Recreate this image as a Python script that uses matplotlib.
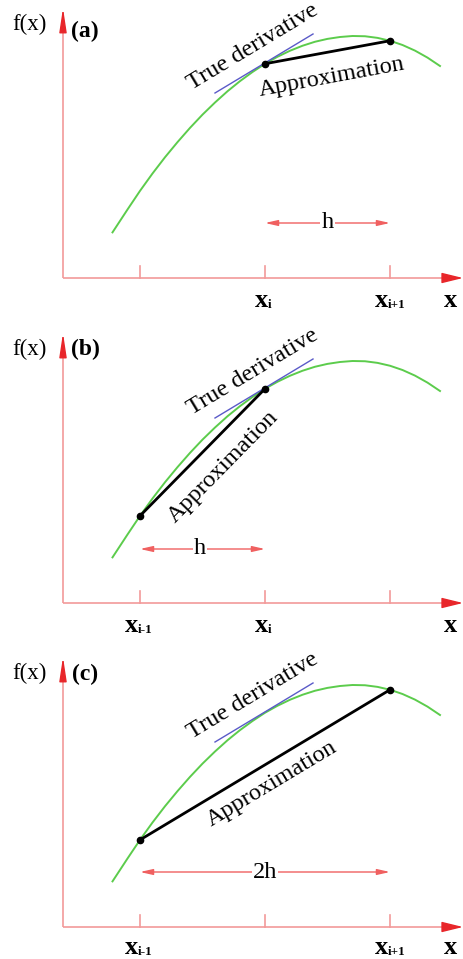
import numpy as np
import matplotlib
matplotlib.use("Agg")
import matplotlib.pyplot as plt

plt.rcParams['font.family'] = ['Liberation Serif', 'DejaVu Serif']

# ---- data (x in units of the grid spacing h) ----
curve_x = [0.78, 0.9, 1.0, 1.1, 1.2, 1.3, 1.4, 1.5, 1.6, 1.7, 1.8, 1.9, 2.0, 2.1,
           2.2, 2.3, 2.4, 2.5, 2.6, 2.7, 2.8, 2.9, 3.0, 3.1, 3.2, 3.3, 3.4]
curve_y = [0.365, 0.548, 0.697, 0.836, 0.966, 1.087, 1.201, 1.307, 1.404, 1.494,
           1.575, 1.648, 1.714, 1.770, 1.818, 1.858, 1.890, 1.913, 1.928, 1.936,
           1.934, 1.921, 1.898, 1.864, 1.819, 1.763, 1.696]
tick_x = [1, 2, 3]
tangent_x = [1.6, 2.384]
tangent_y = [1.48, 1.952]

panel_labels = ['(a)', '(b)', '(c)']
secant_x = [[2, 3], [1, 2], [1, 3]]
secant_y = [[1.714, 1.898], [0.697, 1.714], [0.697, 1.898]]
tick_subs = [
    {2: 'i', 3: 'i+1'},
    {1: 'i-1', 2: 'i'},
    {1: 'i-1', 3: 'i+1'},
]
span_x = [[2, 3], [1, 2], [1, 3]]
span_y = [0.44, 0.432, 0.44]
span_text = ['h', 'h', '2h']
span_text_x = [2.5, 1.48, 2.0]
approx_pos = [(2.536, 1.608), (1.664, 1.088), (2.056, 1.144)]
label_y = [1.93, 1.98, 1.975]
xlab_y = [-0.235, -0.235, -0.215]

# ---- layout (pixel bands of the 463x959 image) ----
W, H = 463, 959
PX = 125.0               # pixels per unit
bands = [(0, 320, 278), (320, 640, 603), (640, 959, 927)]
x_origin = 0.384
x_end = 3.584
y_top = 2.16
PT = 0.72                # points per pixel at 100 dpi

AX_LINE = '#f29a9a'
AX_HEAD = '#e8262a'
GREEN = '#5ccc4c'
BLUE = '#5a5ac8'

fig = plt.figure(figsize=(W / 100, H / 100), dpi=100)

for k, (top, bot, base) in enumerate(bands):
    ax = fig.add_axes([0, 1 - bot / H, 1, (bot - top) / H])
    ax.set_xlim(1 - 140 / PX, 1 + (W - 140) / PX)
    ax.set_ylim(-(bot - base) / PX, (base - top) / PX)
    ax.axis('off')

    # axes lines
    ax.plot([x_origin, x_end - 0.1], [0, 0], color=AX_LINE, lw=1.2, solid_capstyle='butt')
    ax.plot([x_origin, x_origin], [0, y_top - 0.1], color=AX_LINE, lw=1.2, solid_capstyle='butt')
    ax.annotate('', xy=(x_end, 0), xytext=(x_end - 0.16, 0),
                arrowprops=dict(arrowstyle='-|>,head_length=1.3,head_width=0.32',
                                color=AX_HEAD, lw=1.0, shrinkA=0, shrinkB=0),
                annotation_clip=False)
    ax.annotate('', xy=(x_origin, y_top), xytext=(x_origin, y_top - 0.17),
                arrowprops=dict(arrowstyle='-|>,head_length=1.45,head_width=0.22',
                                color=AX_HEAD, lw=1.0, shrinkA=0, shrinkB=0),
                annotation_clip=False)
    for t in tick_x:
        ax.plot([t, t], [0, 0.1], color=AX_LINE, lw=1.2)

    # curve and tangent
    ax.plot(curve_x, curve_y, color=GREEN, lw=1.4, solid_joinstyle='round')
    ax.plot(tangent_x, tangent_y, color=BLUE, lw=1.0)

    # secant approximation
    ax.plot(secant_x[k], secant_y[k], color='black', lw=2.0, zorder=4)
    ax.plot(secant_x[k], secant_y[k], 'o', color='black', ms=4.5, zorder=5)

    # texts
    ang_t = np.degrees(np.arctan2(tangent_y[1] - tangent_y[0], tangent_x[1] - tangent_x[0]))
    ax.text(1.905, 1.845, 'True derivative', fontsize=17.5, rotation=ang_t,
            rotation_mode='anchor', ha='center', va='center')
    sx, sy = secant_x[k], secant_y[k]
    ang_s = np.degrees(np.arctan2(sy[1] - sy[0], sx[1] - sx[0]))
    ax.text(approx_pos[k][0], approx_pos[k][1], 'Approximation', fontsize=17.5,
            rotation=ang_s, rotation_mode='anchor', ha='center', va='center')

    ax.text(0.112, 1.985, 'f(x)', fontsize=16.5, ha='center', va='baseline')
    ax.text(0.56, label_y[k], panel_labels[k], fontsize=17, fontweight='bold',
            ha='center', va='baseline')

    for t, sub in tick_subs[k].items():
        dx = 3 if sub == 'i' else -2
        ax.annotate('x', xy=(t, xlab_y[k]), xytext=(dx * PT, 0), textcoords='offset points',
                    fontsize=19, fontweight='bold', ha='right', va='baseline')
        ax.annotate(sub, xy=(t, xlab_y[k]), xytext=(dx * PT, -1 * PT), textcoords='offset points',
                    fontsize=9.5, fontweight='bold', ha='left', va='baseline')
    ax.text(3.488, xlab_y[k], 'x', fontsize=19, fontweight='bold', ha='center', va='baseline')

    # h span arrow
    ax.annotate('', xy=(span_x[k][1], span_y[k]), xytext=(span_x[k][0], span_y[k]),
                arrowprops=dict(arrowstyle='<|-|>,head_length=0.75,head_width=0.17',
                                color='#f06060', lw=1.0, shrinkA=0, shrinkB=0))
    ax.text(span_text_x[k], span_y[k], span_text[k], fontsize=17.5, ha='center',
            va='center', bbox=dict(boxstyle='square,pad=0.05', fc='white', ec='none'))

fig.savefig('out.png', dpi=100)
